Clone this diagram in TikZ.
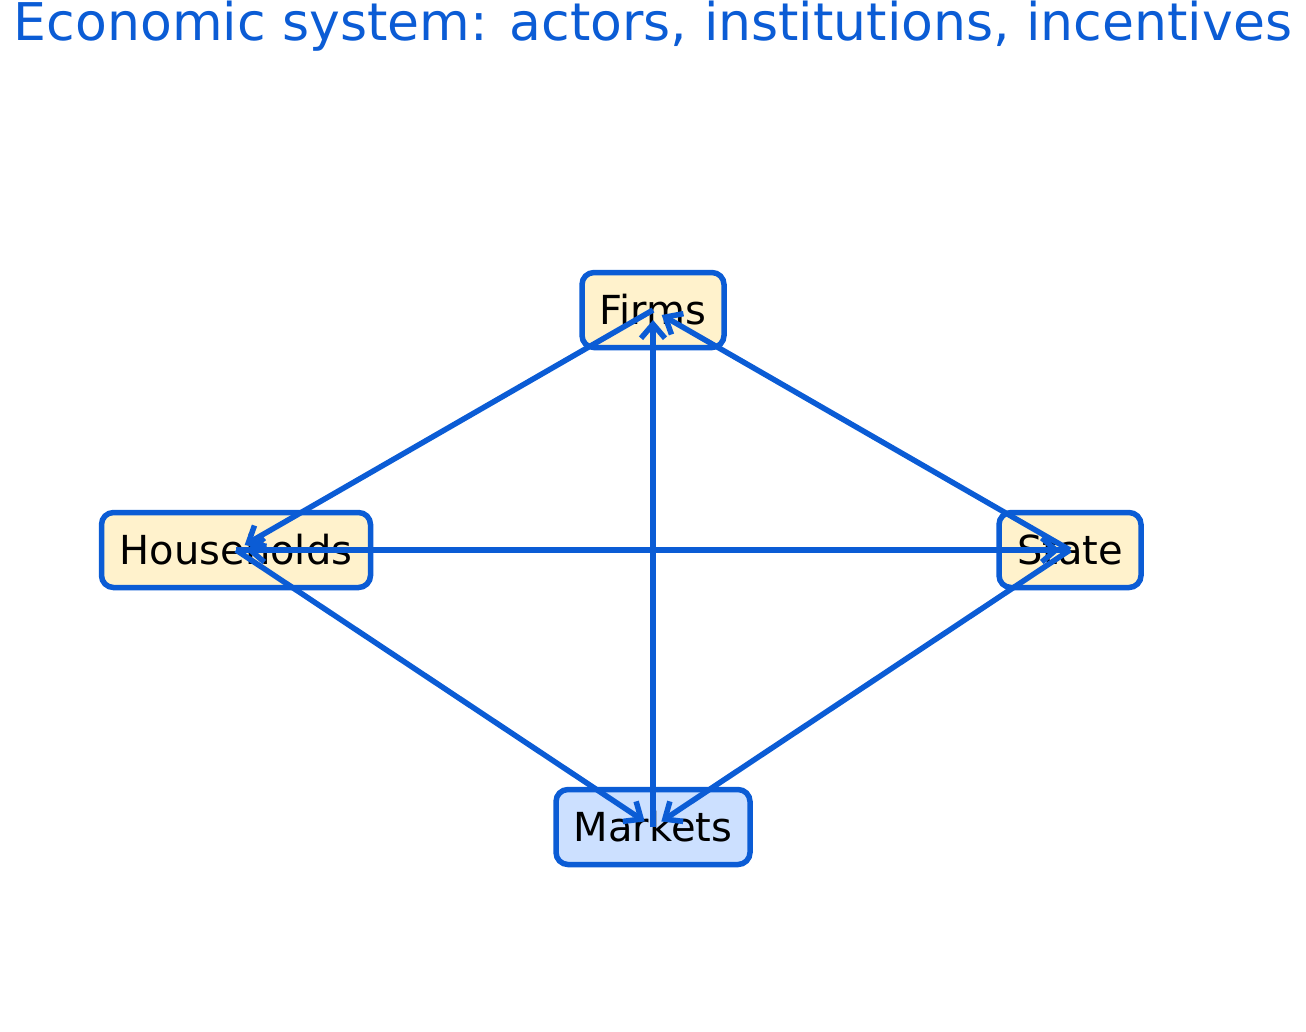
\documentclass[tikz,border=0pt]{standalone}
\usepackage{fontspec}
\setmainfont{DejaVu Sans}
\usetikzlibrary{arrows.meta}
\definecolor{mblue}{HTML}{0B5CD5}
\definecolor{ybox}{HTML}{FFF2CC}
\definecolor{bbox}{HTML}{CCE0FF}
\tikzset{
  actor/.style={draw=mblue, line width=5.5pt, rounded corners=12pt, fill=ybox, minimum height=75pt, inner xsep=10pt, font=\fontsize{40}{46}\selectfont},
  link/.style={draw=mblue, line width=5.5pt, -{Straight Barb[length=14pt,width=24pt,line width=5.5pt]}, shorten >=10pt}
}
\begin{document}
\begin{tikzpicture}[x=1pt,y=-1pt]
\useasboundingbox (0,0) rectangle (1306,1031);
\node[text=mblue, font=\fontsize{52}{60}\selectfont] (title) at (653,26) {Economic system: actors, institutions, incentives};
\node[actor, minimum width=142pt] (f) at (653,310) {Firms};
\node[actor, minimum width=269pt] (h) at (236,550) {Households};
\node[actor, minimum width=142pt] (s) at (1070,550) {State};
\node[actor, minimum width=194pt, fill=bbox] (m) at (653,827) {Markets};
\draw[link] (f.center) -- (h.center);
\draw[link] (s.center) -- (f.center);
\draw[link] (m.center) -- (f.center);
\draw[link] (s.center) -- (h.center);
\draw[link] (h.center) -- (s.center);
\draw[link] (h.center) -- (m.center);
\draw[link] (s.center) -- (m.center);
\end{tikzpicture}
\end{document}
